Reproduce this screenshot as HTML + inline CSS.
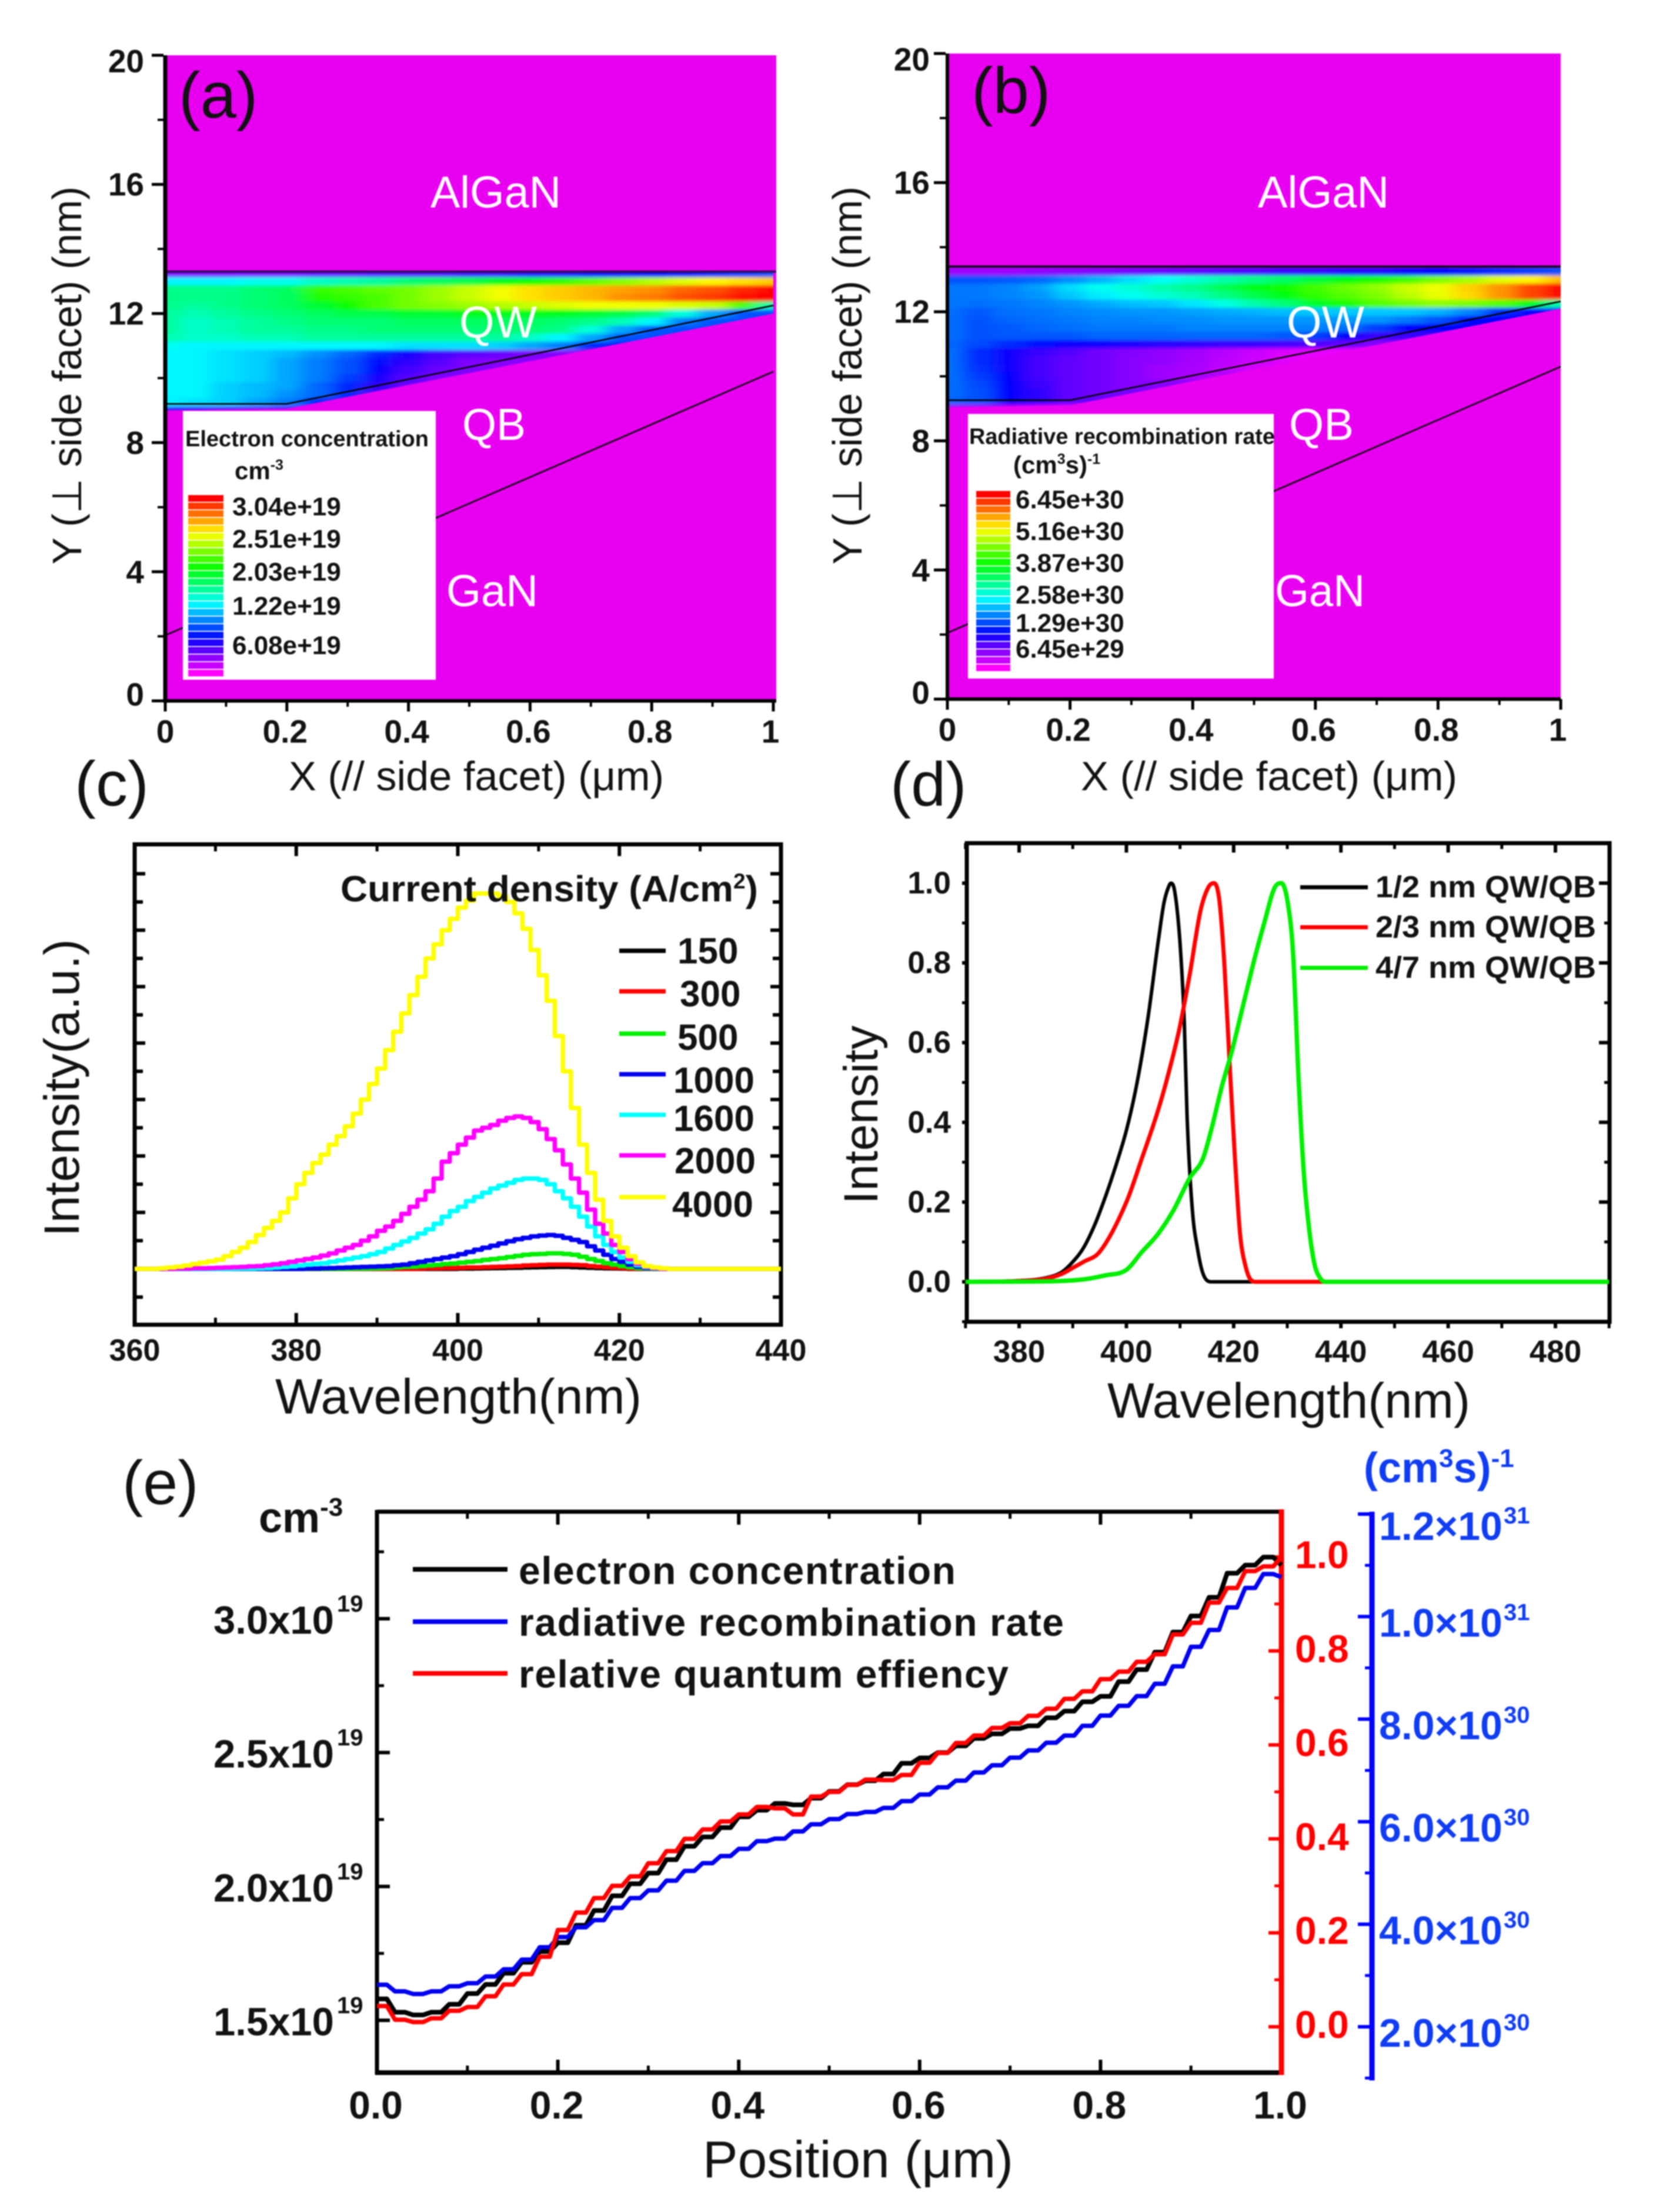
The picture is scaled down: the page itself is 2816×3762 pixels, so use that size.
<!DOCTYPE html>
<html lang="en">
<head>
<meta charset="utf-8">
<title>InGaN QW simulation figure</title>
<style>
html,body{margin:0;padding:0;background:#fff;width:2816px;height:3762px;overflow:hidden}
svg{display:block;filter:blur(1.1px)}
text{font-family:"Liberation Sans","DejaVu Sans",sans-serif;fill:#111}
.b{font-weight:700}
.w{fill:#fff}
</style>
</head>
<body>
<svg id="fig" xmlns="http://www.w3.org/2000/svg" width="2816" height="3762" viewBox="0 0 2816 3762">
<defs>
<filter id="smooth" x="-5%" y="-10%" width="110%" height="120%"><feGaussianBlur stdDeviation="14 3"/></filter>
<clipPath id="wedge-a"><polygon id="wedge-a-poly" points="0,0"/></clipPath>
<clipPath id="wedge-b"><polygon id="wedge-b-poly" points="0,0"/></clipPath>
</defs>
<rect width="2816" height="3762" fill="#fff"/>

<g id="panel-a"></g>
<g id="panel-b"></g>
<g id="panel-c"></g>
<g id="panel-d"></g>
<g id="panel-e"></g>

<g>
<text x="304" y="200" font-size="110">(a)</text>
<text x="1652" y="192" font-size="110">(b)</text>
<text x="127" y="1370" font-size="108">(c)</text>
<text x="1514" y="1370" font-size="106">(d)</text>
<text x="208" y="2558" font-size="106">(e)</text>

<text class="w" x="732" y="353" font-size="76" textLength="222" lengthAdjust="spacingAndGlyphs">AlGaN</text>
<text class="w" x="781" y="574" font-size="76" textLength="132" lengthAdjust="spacingAndGlyphs">QW</text>
<text class="w" x="786" y="748" font-size="76" textLength="108" lengthAdjust="spacingAndGlyphs">QB</text>
<text class="w" x="759" y="1031" font-size="76" textLength="156" lengthAdjust="spacingAndGlyphs">GaN</text>
<text class="w" x="2139" y="353" font-size="76" textLength="223" lengthAdjust="spacingAndGlyphs">AlGaN</text>
<text class="w" x="2188" y="574" font-size="76" textLength="132" lengthAdjust="spacingAndGlyphs">QW</text>
<text class="w" x="2192" y="748" font-size="76" textLength="110" lengthAdjust="spacingAndGlyphs">QB</text>
<text class="w" x="2168" y="1031" font-size="76" textLength="153" lengthAdjust="spacingAndGlyphs">GaN</text>

<text x="491" y="1344" font-size="70" textLength="638" lengthAdjust="spacingAndGlyphs">X (// side facet) (μm)</text>
<text x="1838" y="1344" font-size="70" textLength="640" lengthAdjust="spacingAndGlyphs">X (// side facet) (μm)</text>
<text transform="translate(138,960) rotate(-90)" font-size="70" textLength="643" lengthAdjust="spacingAndGlyphs">Y (⊥ side facet) (nm)</text>
<text transform="translate(1465,960) rotate(-90)" font-size="70" textLength="643" lengthAdjust="spacingAndGlyphs">Y (⊥ side facet) (nm)</text>

<text x="468" y="2404" font-size="84" textLength="623" lengthAdjust="spacingAndGlyphs">Wavelength(nm)</text>
<text transform="translate(134,2103) rotate(-90)" font-size="84" textLength="506" lengthAdjust="spacingAndGlyphs">Intensity(a.u.)</text>
<text class="b" x="579" y="1533" font-size="62" textLength="710" lengthAdjust="spacingAndGlyphs">Current density (A/cm<tspan font-size="36" dy="-22">2</tspan><tspan dy="22">)</tspan></text>

<text x="1883" y="2411" font-size="84" textLength="617" lengthAdjust="spacingAndGlyphs">Wavelength(nm)</text>
<text transform="translate(1492,2048) rotate(-90)" font-size="82" textLength="304" lengthAdjust="spacingAndGlyphs">Intensity</text>

<text x="1195" y="3703" font-size="88" textLength="528" lengthAdjust="spacingAndGlyphs">Position (μm)</text>
<text class="b" x="440" y="2606" font-size="72">cm<tspan font-size="44" dy="-28">-3</tspan></text>
<text class="b" x="2319" y="2521" font-size="72" style="fill:#0f3cf0">(cm<tspan font-size="44" dy="-26">3</tspan><tspan dy="26">s)</tspan><tspan font-size="44" dy="-26">-1</tspan></text>
<text class="b" x="882" y="2694" font-size="66" textLength="743" lengthAdjust="spacing">electron concentration</text>
<text class="b" x="882" y="2782" font-size="66" textLength="927" lengthAdjust="spacing">radiative recombination rate</text>
<text class="b" x="882" y="2870" font-size="66" textLength="833" lengthAdjust="spacing">relative quantum effiency</text>
</g>
</svg>

<script>
/* ---------- panel (a)/(b) contour data, units 1e19 cm-3 and 1e30 (cm3 s)-1 ---------- */
const heatX = [0,.05,.1,.15,.2,.25,.3,.35,.4,.45,.5,.55,.6,.65,.7,.75,.8,.85,.9,.95,1];
const heatY = [13.25,13,12.75,12.5,12.25,12,11.75,11.5,11.25,11,10.75,10.5,10.25,10,9.75,9.5,9.25,9];
const electronRows = [
[.3,.3,.3,.3,.3,.35,.35,.4,.4,.4,.45,.45,.5,.5,.55,.55,.6,.65,.7,.75,.8],
[1.2,1.2,1.2,1.25,1.25,1.35,1.4,1.45,1.55,1.6,1.65,1.75,1.85,1.95,2.05,2.15,2.25,2.35,2.45,2.5,2.55],
[1.5,1.5,1.5,1.55,1.6,1.95,2,2.05,2.1,2.2,2.3,2.4,2.5,2.55,2.6,2.65,2.7,2.8,2.85,2.95,3.04],
[1.5,1.5,1.5,1.55,1.6,1.9,1.95,2,2.1,2.2,2.3,2.4,2.5,2.55,2.6,2.7,2.75,2.85,2.9,3,3.04],
[1.5,1.45,1.5,1.55,1.6,1.7,1.85,2,2.1,2.15,2.2,2.25,2.3,2.35,2.4,2.4,2.4,2.35,2.3,2,1.4],
[1.45,1.4,1.45,1.5,1.55,1.6,1.65,1.65,1.7,1.7,1.75,1.75,1.75,1.75,1.7,1.65,1.55,1.3,1,.8,.8],
[1.45,1.35,1.4,1.45,1.5,1.55,1.55,1.55,1.6,1.6,1.6,1.6,1.6,1.55,1.5,1.4,1.2,.9,.8],
[1.45,1.35,1.4,1.45,1.45,1.5,1.5,1.55,1.55,1.55,1.55,1.55,1.55,1.5,1.3,1,.8],
[1.4,1.35,1.35,1.4,1.4,1.45,1.45,1.45,1.45,1.45,1.45,1.45,1.35,1.2,1,.8],
[1.25,1.2,1.2,1.2,1.2,1.2,1.2,1.2,1.15,1.15,1.15,1.1,1,.9,.7],
[1.2,1.2,1.15,1.1,1.05,.95,.85,.7,.55,.45,.4,.35,.3,.28],
[1.2,1.2,1.15,1.1,1,.9,.8,.65,.5,.4,.3,.28],
[1.2,1.2,1.15,1.1,1,.9,.8,.6,.45,.35,.3],
[1.2,1.2,1.15,1.1,1,.9,.75,.55,.4,.3],
[1.2,1.2,1.1,1.05,1,.85,.7,.5,.35],
[1.2,1.2,1.1,1.05,.95,.85,.7,.4],
[1.2,1.15,1.1,1,.9,.7,.45],
[.5,.45,.4,.35,.35,.3,.25]
];
const recombRows = [
[.5,.5,.5,.55,.6,.65,.7,.75,.8,.85,.9,1,1,1.1,1.1,1.2,1.3,1.4,1.5,1.6,1.7],
[1.7,1.7,1.75,1.8,2,2.2,2.4,2.6,2.8,3,3.2,3.4,3.6,3.8,4,4.2,4.5,4.7,5,5.2,5.5],
[1.9,1.9,1.95,2.1,2.4,2.65,2.8,3,3.15,3.45,3.75,3.95,4.2,4.4,4.6,4.9,5.1,5.4,5.7,6.1,6.45],
[1.9,1.9,1.95,2.05,2.3,2.5,2.65,2.8,2.95,3.2,3.5,3.8,4.1,4.3,4.5,4.8,5.05,5.35,5.7,6.1,6.45],
[1.9,1.85,1.9,1.95,2.05,2.15,2.25,2.3,2.45,2.7,3,3.3,3.7,4,4.3,4.45,4.6,4.5,4.3,3.8,3],
[1.85,1.75,1.85,1.9,1.95,2,2.05,2.05,2.1,2.15,2.2,2.25,2.3,2.3,2.3,2.3,2.2,1.95,1.5,1.2,1.2],
[1.85,1.7,1.8,1.85,1.9,1.95,1.95,2,2,2.05,2.05,2.05,2.05,2.05,2.05,1.9,1.7,1.3],
[1.85,1.7,1.75,1.8,1.85,1.9,1.9,1.9,1.95,1.95,1.95,1.95,1.95,1.85,1.6,1.3],
[1.85,1.7,1.75,1.75,1.75,1.8,1.8,1.8,1.8,1.8,1.8,1.75,1.6,1.3,1],
[1.8,1.65,1.5,1.35,1.25,1.2,1.15,1.1,1.05,1,1,.95,.9,.8,.6],
[1.85,1.5,1.25,1,.85,.72,.62,.55,.47,.37,.27,.18,.12,.08],
[1.85,1.5,1.25,.95,.8,.7,.6,.55,.45,.35,.25,.15,.1],
[1.85,1.55,1.25,.95,.8,.7,.6,.5,.42,.33,.22],
[1.85,1.6,1.28,.95,.8,.7,.6,.5,.4],
[1.85,1.65,1.3,1,.8,.7,.6],
[1.85,1.7,1.3,1.05,.8,.7],
[1.8,1.7,1.3,1.05,.8],
[.5,.5,.4,.3,.2]
];
const wedgeX = [0,1,1,.2,0];
const electronWedgeY = [13.3,13.3,12,9.05,9];
const recombWedgeY = [13.4,13.4,12.1,9.1,9.05];
const aInterfaceX = [0,.2,1];
const aInterfaceY = [9.2,9.2,12.25];
const bInterfaceX = [0,.2,1];
const bInterfaceY = [9.26,9.26,12.32];
const aLowerX = [0,1];
const aLowerY = [2.03,10.2];
const bLowerX = [0,1];
const bLowerY = [2.05,10.3];
const mapMajorY = [20,16,12,8,4,0];
const mapMinorY = [18,14,10,6,2];
const mapMajorX = [0,.2,.4,.6,.8,1];
const mapMinorX = [.1,.3,.5,.7,.9];
const mapLabelsX = ['0','0.2','0.4','0.6','0.8','1'];
const electronLegendLabels = ['3.04e+19','2.51e+19','2.03e+19','1.22e+19','6.08e+19'];
const recombLegendLabels = ['6.45e+30','5.16e+30','3.87e+30','2.58e+30','1.29e+30','6.45e+29'];

/* ---------- panel (c) spectra, 1 nm grid 360..440 ---------- */
const cSeriesNames = ['150','300','500','1000','1600','2000','4000'];
const cColors = ['#000000','#ff0000','#00ee00','#0000ee','#00ffff','#ff00ff','#ffff00'];
const c150 = [
0,0,0,0,0,0,0,0,0,0,
0,0,0,0,0,0,0,0,0,0,
0,0,0,0,0,0,0,0,0,0,
0,0,0,0,0,0,0,0,0,0,
.01,.01,.015,.02,.025,.03,.035,.04,.05,.055,
.06,.065,.07,.07,.06,.05,.04,.03,.02,.015,
.01,0,0,0,0,0,0,0,0,0,
0,0,0,0,0,0,0,0,0,0,0];
const c300 = [
0,0,0,0,0,0,0,0,0,0,
0,0,0,0,0,0,0,0,0,0,
0,0,0,0,0,0,0,0,0,0,
0,0,0,0,0,.01,.02,.02,.03,.03,
.04,.05,.05,.06,.07,.08,.09,.1,.12,.13,
.14,.15,.15,.15,.14,.13,.1,.08,.06,.04,
.03,.01,.01,0,0,0,0,0,0,0,
0,0,0,0,0,0,0,0,0,0,0];
const c500 = [
0,0,0,0,0,0,0,0,0,0,
0,0,0,0,0,0,0,0,0,0,
0,0,0,0,0,0,.005,.01,.01,.015,
.02,.03,.05,.07,.08,.1,.12,.14,.17,.19,
.22,.25,.28,.32,.35,.38,.42,.46,.5,.52,
.53,.55,.55,.53,.5,.43,.35,.28,.2,.15,
.1,.06,.03,.01,0,0,0,0,0,0,
0,0,0,0,0,0,0,0,0,0,0];
const c1000 = [
0,0,0,0,0,0,0,0,0,0,
0,0,0,0,0,0,0,0,0,0,
0,.01,.01,.02,.03,.04,.05,.06,.07,.08,
.09,.1,.13,.15,.2,.25,.3,.35,.4,.45,
.52,.6,.68,.75,.82,.9,.98,1.05,1.1,1.15,
1.18,1.2,1.17,1.1,1.03,.95,.8,.65,.5,.35,
.25,.15,.08,.03,.01,0,0,0,0,0,
0,0,0,0,0,0,0,0,0,0,0];
const c1600 = [
0,0,0,0,0,0,0,0,0,0,
0,0,.005,.01,.01,.02,.03,.05,.07,.09,
.12,.15,.18,.2,.25,.3,.35,.4,.45,.52,
.6,.72,.85,.97,1.1,1.25,1.4,1.6,1.85,2.05,
2.2,2.4,2.55,2.7,2.85,2.95,3.05,3.15,3.2,3.2,
3.15,3,2.75,2.5,2.2,1.85,1.5,1.15,.85,.6,
.4,.25,.13,.06,.02,0,0,0,0,0,
0,0,0,0,0,0,0,0,0,0,0];
const c2000 = [
0,0,0,0,0,.01,.01,.02,.02,.03,
.04,.05,.06,.07,.09,.1,.13,.16,.2,.25,
.3,.35,.4,.47,.55,.65,.75,.85,1,1.15,
1.35,1.5,1.7,1.95,2.2,2.45,2.75,3.2,3.8,4.1,
4.4,4.65,4.9,5,5.1,5.25,5.35,5.4,5.35,5.2,
4.95,4.6,4.2,3.7,3.2,2.7,2.1,1.6,1.25,.85,
.6,.35,.18,.08,.03,0,0,0,0,0,
0,0,0,0,0,0,0,0,0,0,0];
const c4000 = [
0,0,0,.02,.05,.08,.12,.17,.22,.27,
.33,.45,.6,.75,.95,1.2,1.45,1.7,2,2.5,
3,3.4,3.75,4.05,4.4,4.7,5.05,5.5,6,6.55,
7.1,7.75,8.4,9.05,9.7,10.35,11,11.5,12,12.4,
12.8,13.05,13.3,13.3,13.3,13.2,13,12.6,12.05,11.3,
10.4,9.5,8.25,7,5.7,4.4,3.4,2.45,1.7,1.15,
.75,.45,.23,.1,.05,.02,0,0,0,0,
0,0,0,0,0,0,0,0,0,0,0];
const cTickMajorX = [360,380,400,420,440];
const cTickMinorX = [370,390,410,430];
const cTickY = [-1,0,1,2,3,4,5,6,7,8,9,10,11,12,13,14];

/* ---------- panel (d) normalised spectra ---------- */
const d12Wl = [370,380,385,388,390,392,394,396,398,400,402,404,406,407,408,408.3,409,410,410.8,411.3,412.3,413.3,414.3,415.8,490];
const d12I  = [0,.003,.01,.025,.05,.085,.14,.21,.29,.38,.5,.66,.86,.95,.995,1,.98,.85,.65,.42,.18,.08,.02,0,0];
const d23Wl = [370,380,385,388,390,392,395,400,402.9,405.9,407.8,409.8,411.8,413.8,415.3,416.3,417.3,418.3,419.2,420.2,421.2,422.2,423.2,424.2,490];
const d23I  = [0,.002,.008,.02,.035,.05,.075,.2,.31,.43,.52,.63,.77,.93,.99,1,.96,.79,.56,.32,.12,.04,.005,0,0];
const d47Wl = [370,385,392,396,400,402.9,405.9,408.8,411.8,414.3,415.8,417.8,419.7,421.7,423.7,425.7,427.7,428.9,430.1,431.1,432.1,433.1,434.1,435.1,436.1,437.1,490];
const d47I  = [0,.001,.006,.016,.03,.075,.12,.18,.26,.31,.38,.49,.58,.69,.8,.9,.99,1,.95,.82,.51,.27,.13,.043,.01,0,0];
const dSeriesLabels = ['1/2 nm QW/QB','2/3 nm QW/QB','4/7 nm QW/QB'];
const dTickMajorX = [380,400,420,440,460,480];
const dTickMinorX = [370,390,410,430,450,470,490];
const dTickMajorY = [0,.2,.4,.6,.8,1];
const dTickMinorY = [-.1,.1,.3,.5,.7,.9];
const dLabelsY = ['0.0','0.2','0.4','0.6','0.8','1.0'];

/* ---------- panel (e) position profiles, 0.02 um grid ---------- */
const eElectron = [
1.58,1.53,1.52,1.53,1.56,1.6,1.634,1.676,1.717,1.757,
1.79,1.855,1.91,1.965,2.01,2.05,2.1,2.15,2.185,2.22,
2.26,2.285,2.31,2.305,2.33,2.355,2.38,2.395,2.42,2.46,
2.48,2.5,2.525,2.553,2.57,2.59,2.6,2.63,2.655,2.69,
2.71,2.765,2.81,2.875,2.95,3.01,3.08,3.17,3.2,3.23,3.2];
const eRecomb = [
2.82,2.69,2.64,2.69,2.79,2.85,2.98,3.12,3.31,3.55,
3.75,3.94,4.08,4.32,4.51,4.66,4.85,5.04,5.19,5.33,
5.47,5.62,5.67,5.81,5.95,6.05,6.15,6.19,6.27,6.4,
6.53,6.67,6.8,6.96,7.1,7.25,7.39,7.54,7.68,7.87,
8.07,8.26,8.45,8.69,9.03,9.41,9.74,10.18,10.56,10.83,10.77];
const eEfficiency = [
.044,.015,.01,.018,.034,.042,.065,.09,.112,.149,
.206,.243,.274,.3,.32,.348,.374,.4,.42,.437,
.452,.468,.465,.452,.49,.5,.515,.526,.525,.536,
.562,.583,.604,.62,.636,.646,.662,.677,.698,.714,
.74,.756,.777,.793,.835,.86,.903,.934,.97,.98,1];
const eTickMajorX = [0,.2,.4,.6,.8,1];
const eTickMinorX = [.1,.3,.5,.7,.9];
const eLabelsX = ['0.0','0.2','0.4','0.6','0.8','1.0'];
const eLeftMajor = [1.5,2,2.5,3];
const eLeftMinor = [1.75,2.25,2.75,3.25];
const eLeftLabels = ['1.5x10','2.0x10','2.5x10','3.0x10'];
const eRedMajor = [0,.2,.4,.6,.8,1];
const eRedMinor = [.1,.3,.5,.7,.9];
const eRedLabels = ['0.0','0.2','0.4','0.6','0.8','1.0'];
const eBlueMajor = [2,4,6,8,10,12];
const eBlueMinor = [1,3,5,7,9,11];
const eBlueLabels = ['2.0×10','4.0×10','6.0×10','8.0×10','1.0×10','1.2×10'];
const eBlueExps = ['30','30','30','30','31','31'];

/* ---------- helpers ---------- */
const NS = 'http://www.w3.org/2000/svg';
const MAGENTA = '#e800f0';
function linear(d0, d1, r0, r1) { return v => r0 + (v - d0) * (r1 - r0) / (d1 - d0); }
function make(parent, tag, attrs) {
  const n = document.createElementNS(NS, tag);
  for (const k in attrs) n.setAttribute(k, attrs[k]);
  parent.appendChild(n);
  return n;
}
function mark(el, name) {
  
  
  return el;
}
function seg(p, x1, y1, x2, y2, color, w, name) {
  return mark(make(p, 'line', {x1, y1, x2, y2, stroke: color, 'stroke-width': w}), name);
}
function label(p, str, x, y, size, anchor, color, name, weight) {
  const t = make(p, 'text', {x, y, 'font-size': size, 'text-anchor': anchor, 'dominant-baseline': 'central', 'font-weight': weight || 700});
  t.style.fill = color || '#111';
  t.textContent = str;
  return mark(t, name);
}
function polyline(p, xs, ys, sx, sy, color, w, name) {
  const pts = xs.map((x, i) => sx(x).toFixed(1) + ',' + sy(ys[i]).toFixed(1)).join(' ');
  return mark(make(p, 'polyline', {points: pts, fill: 'none', stroke: color, 'stroke-width': w, 'stroke-linejoin': 'round'}), name);
}
function stepPath(p, xs, ys, sx, sy, color, w, name) {
  let d = 'M' + sx(xs[0]).toFixed(1) + ' ' + sy(ys[0]).toFixed(1);
  for (let i = 1; i < xs.length; i++) d += 'H' + sx(xs[i]).toFixed(1) + 'V' + sy(ys[i]).toFixed(1);
  return mark(make(p, 'path', {d, fill: 'none', stroke: color, 'stroke-width': w, 'stroke-linejoin': 'round'}), name);
}
/* soft stair: flat for part of each interval, then a short diagonal rise, as in the jagged simulation traces */
function stairPath(p, xs, ys, sx, sy, color, w, name) {
  let d = 'M' + sx(xs[0]).toFixed(1) + ' ' + sy(ys[0]).toFixed(1);
  for (let i = 1; i < xs.length; i++) {
    const xa = sx(xs[i - 1]), xb = sx(xs[i]);
    d += 'L' + (xa + .55 * (xb - xa)).toFixed(1) + ' ' + sy(ys[i - 1]).toFixed(1);
    d += 'L' + xb.toFixed(1) + ' ' + sy(ys[i]).toFixed(1);
  }
  return mark(make(p, 'path', {d, fill: 'none', stroke: color, 'stroke-width': w, 'stroke-linejoin': 'round'}), name);
}
/* monotone cubic through the read points, for the smooth spectra */
function smoothPath(p, xs, ys, sx, sy, color, w, name) {
  const X = xs.map(sx), Y = ys.map(sy), n = X.length;
  const sec = [];
  for (let i = 0; i < n - 1; i++) sec.push((Y[i + 1] - Y[i]) / (X[i + 1] - X[i]));
  const m = [sec[0]];
  for (let i = 1; i < n - 1; i++) {
    if (sec[i - 1] * sec[i] <= 0) m.push(0);
    else {
      const avg = (sec[i - 1] + sec[i]) / 2;
      const lim = 3 * Math.min(Math.abs(sec[i - 1]), Math.abs(sec[i]));
      m.push(Math.sign(avg) * Math.min(Math.abs(avg), lim));
    }
  }
  m.push(sec[n - 2]);
  let d = 'M' + X[0].toFixed(1) + ' ' + Y[0].toFixed(1);
  for (let i = 0; i < n - 1; i++) {
    const h = (X[i + 1] - X[i]) / 3;
    d += 'C' + (X[i] + h).toFixed(1) + ' ' + (Y[i] + m[i] * h).toFixed(1) + ' ' + (X[i + 1] - h).toFixed(1) + ' ' + (Y[i + 1] - m[i + 1] * h).toFixed(1) + ' ' + X[i + 1].toFixed(1) + ' ' + Y[i + 1].toFixed(1);
  }
  return mark(make(p, 'path', {d, fill: 'none', stroke: color, 'stroke-width': w, 'stroke-linejoin': 'round'}), name);
}
function rampColor(v, max) {
  const h = 300 * (1 - Math.max(0, Math.min(1, v / max)));
  return 'hsl(' + h.toFixed(0) + ',100%,50%)';
}

/* ---------- contour panels ---------- */
function drawMap(cfg) {
  const g = document.getElementById(cfg.id);
  const sx = linear(0, 1, cfg.x0, cfg.x1);
  const sy = linear(0, 20, cfg.y0, cfg.y20);
  mark(make(g, 'rect', {x: cfg.x0, y: cfg.y20, width: cfg.right - cfg.x0, height: cfg.y0 - cfg.y20, fill: MAGENTA}), 'map-background');
  document.getElementById(cfg.clip).setAttribute('points', cfg.wedgeY.map((y, i) => sx(wedgeX[i]).toFixed(1) + ',' + sy(y).toFixed(1)).join(' '));
  const clipG = make(g, 'g', {'clip-path': 'url(#' + cfg.clip.replace('-poly', '') + ')'});
  mark(clipG, 'quantum-well-region');
  const cells = make(clipG, 'g', {filter: 'url(#smooth)'});
  mark(cells, 'heatmap-cells');
  const dx = (sx(.05) - sx(0)) / 2, dy = (sy(0) - sy(.25)) / 2;
  cfg.rows.forEach((row, r) => {
    heatX.forEach((hx, c) => {
      const v = row[Math.min(c, row.length - 1)];
      const cell = make(cells, 'rect', {x: sx(hx) - dx, y: sy(heatY[r]) - dy, width: 2 * dx + .5, height: 2 * dy + .5, fill: rampColor(v, cfg.max)});
      mark(cell, 'heatmap-cell');
    });
  });
  seg(g, cfg.x0, sy(cfg.topY), cfg.right, sy(cfg.topY), cfg.topColor, 4, 'top-interface-line');
  polyline(g, cfg.ifX, cfg.ifY, sx, sy, '#000', 2.5, 'well-interface-line');
  polyline(g, cfg.lowX, cfg.lowY, sx, sy, '#000', 2.5, 'lower-interface-line');

  /* legend */
  const L = cfg.legend;
  mark(make(g, 'rect', {x: L.x, y: L.y, width: L.w, height: L.h, fill: '#fff'}), 'legend-box');
  const N = 24, stripe = L.barH / N;
  for (let i = 0; i < N; i++) {
    const s = make(g, 'rect', {x: L.barX, y: L.barY + i * stripe, width: L.barW, height: stripe - 1.6, fill: rampColor(cfg.max * (1 - i / (N - 1)), cfg.max)});
    mark(s, 'legend-swatch');
  }
  L.labels.forEach((t, i) => label(g, t, L.textX, L.textY[i], 44, 'start', '#111', 'legend-value'));
  const ttl = label(g, L.title, L.titleX, L.titleY, 38, 'start', '#111', 'legend-title');
  ttl.setAttribute('textLength', L.titleW);
  ttl.setAttribute('lengthAdjust', 'spacingAndGlyphs');
  const unit = make(g, 'text', {x: L.unitX, y: L.unitY, 'font-size': 42, 'font-weight': 700});
  mark(unit, 'legend-unit');
  const [a, b, c, d] = L.unit;
  const ts1 = make(unit, 'tspan', {}); ts1.textContent = a;
  const ts2 = make(unit, 'tspan', {'font-size': 25, dy: -16}); ts2.textContent = b;
  const ts3 = make(unit, 'tspan', {dy: 16}); ts3.textContent = c;
  const ts4 = make(unit, 'tspan', {'font-size': 25, dy: -16}); ts4.textContent = d;

  /* axes */
  const tickLeft = cfg.x0 - 3;
  mapMajorY.forEach((v, i) => {
    seg(g, tickLeft - 20, sy(v), tickLeft, sy(v), '#000', 5, 'y-tick-major');
    const ly = Math.min(Math.max(sy(v), cfg.y20 + 10), cfg.y0 - 11);
    label(g, String(v), cfg.labelRight, ly, 55, 'end', '#111', 'y-tick-label');
  });
  mapMinorY.forEach(v => seg(g, tickLeft - 10, sy(v), tickLeft, sy(v), '#000', 4, 'y-tick-minor'));
  mapMajorX.forEach((v, i) => {
    seg(g, sx(v), cfg.y0, sx(v), cfg.y0 + 18, '#000', 5, 'x-tick-major');
    label(g, mapLabelsX[i], sx(v) - (i === 5 ? 5 : 0) - (i > 0 && i < 5 ? 3 : 0), cfg.y0 + 52, 55, 'middle', '#111', 'x-tick-label');
  });
  mapMinorX.forEach(v => seg(g, sx(v), cfg.y0, sx(v), cfg.y0 + 10, '#000', 4, 'x-tick-minor'));
  seg(g, cfg.x0, cfg.y20, cfg.x0, cfg.y0 + 3, '#000', cfg.axisW, 'y-axis');
  seg(g, cfg.x0 - 3, cfg.y0, cfg.right, cfg.y0, '#000', 6, 'x-axis');
}
drawMap({id: 'panel-a', clip: 'wedge-a-poly', x0: 281, x1: 1315, right: 1320, y0: 1192, y20: 94, rows: electronRows, max: 3.04,
  wedgeY: electronWedgeY, topY: 13.3, topColor: '#3a0a66', ifX: aInterfaceX, ifY: aInterfaceY, lowX: aLowerX, lowY: aLowerY, labelRight: 245, axisW: 7,
  legend: {x: 311, y: 699, w: 430, h: 457, barX: 320, barY: 842, barW: 60, barH: 310, labels: electronLegendLabels, textX: 395, textY: [862, 917, 973, 1031, 1098],
    title: 'Electron concentration', titleX: 315, titleY: 747, titleW: 414, unitX: 399, unitY: 815, unit: ['cm', '-3', '', '']}});
drawMap({id: 'panel-b', clip: 'wedge-b-poly', x0: 1611, x1: 2654, right: 2654, y0: 1189, y20: 91, rows: recombRows, max: 6.45,
  wedgeY: recombWedgeY, topY: 13.4, topColor: '#1a0a2a', ifX: bInterfaceX, ifY: bInterfaceY, lowX: bLowerX, lowY: bLowerY, labelRight: 1581, axisW: 6,
  legend: {x: 1646, y: 704, w: 520, h: 450, barX: 1660, barY: 835, barW: 58, barH: 308, labels: recombLegendLabels, textX: 1727, textY: [850, 904, 958, 1012, 1060, 1104],
    title: 'Radiative recombination rate', titleX: 1648, titleY: 743, titleW: 520, unitX: 1723, unitY: 805, unit: ['(cm', '3', 's)', '-1']}});

/* ---------- panel (c) ---------- */
(function () {
  const g = document.getElementById('panel-c');
  const sx = linear(360, 440, 229, 1328);
  const sy = linear(0, 1, 2158, 2110);
  mark(make(g, 'rect', {x: 229, y: 1436, width: 1099, height: 817, fill: 'none', stroke: '#000', 'stroke-width': 7}), 'plot-frame');
  cTickMajorX.forEach((v) => {
    seg(g, sx(v), 1436, sx(v), 1456, '#000', 6, 'x-tick-major-top');
    seg(g, sx(v), 2253, sx(v), 2233, '#000', 6, 'x-tick-major-bottom');
    label(g, String(v), sx(v), 2297, 52, 'middle', '#111', 'x-tick-label');
  });
  cTickMinorX.forEach((v) => {
    seg(g, sx(v), 1436, sx(v), 1448, '#000', 5, 'x-tick-minor-top');
    seg(g, sx(v), 2253, sx(v), 2241, '#000', 5, 'x-tick-minor-bottom');
  });
  cTickY.forEach((v, i) => {
    const len = i % 2 ? 18 : 14;
    seg(g, 229, sy(v), 229 + len, sy(v), '#000', 6, 'y-tick-left');
    seg(g, 1328, sy(v), 1328 - len, sy(v), '#000', 6, 'y-tick-right');
  });
  const wl = c4000.map((_, i) => 360 + i);
  const all = [c150, c300, c500, c1000, c1600, c2000, c4000];
  all.forEach((vals, i) => {
    stepPath(g, wl, vals, sx, sy, cColors[i], 7.5, 'spectrum-' + cSeriesNames[i]);
  });
  const lineY = [1617, 1686, 1758, 1827, 1896, 1965, 2036];
  const textY = [1618, 1691, 1765, 1838, 1903, 1975, 2049];
  const legX = [1152, 1156, 1152, 1145, 1145, 1147, 1143];
  all.forEach((vals, i) => {
    seg(g, 1053, lineY[i], 1132, lineY[i], cColors[i], 7.5, 'legend-line-' + cSeriesNames[i]);
    label(g, cSeriesNames[i], legX[i], textY[i], 62, 'start', '#111', 'legend-label-' + cSeriesNames[i]);
  });
})();

/* ---------- panel (d) ---------- */
(function () {
  const g = document.getElementById('panel-d');
  const sx = linear(380, 480, 1733, 2645);
  const sy = linear(0, 1, 2180, 1502);
  const L = 1644, R = 2737, T = 1434, B = 2248;
  mark(make(g, 'rect', {x: L, y: T, width: R - L, height: B - T, fill: 'none', stroke: '#000', 'stroke-width': 7}), 'plot-frame');
  dTickMajorX.forEach(v => {
    seg(g, sx(v), T, sx(v), T + 16, '#000', 6, 'x-tick-major-top');
    seg(g, sx(v), B, sx(v), B + 11, '#000', 6, 'x-tick-major-bottom');
    label(g, String(v), sx(v), 2299, 53, 'middle', '#111', 'x-tick-label');
  });
  dTickMinorX.forEach(v => {
    seg(g, sx(v), T, sx(v), T + 10, '#000', 5, 'x-tick-minor-top');
    seg(g, sx(v), B, sx(v), B + 11, '#000', 5, 'x-tick-minor-bottom');
  });
  dTickMajorY.forEach((v, i) => {
    seg(g, L - 8, sy(v), L, sy(v), '#000', 6, 'y-tick-major-left');
    seg(g, R, sy(v), R - 18, sy(v), '#000', 6, 'y-tick-major-right');
    label(g, dLabelsY[i], 1617, sy(v), 53, 'end', '#111', 'y-tick-label');
  });
  dTickMinorY.forEach(v => {
    seg(g, L - 8, sy(v), L, sy(v), '#000', 5, 'y-tick-minor-left');
    seg(g, R, sy(v), R - 9, sy(v), '#000', 5, 'y-tick-minor-right');
  });
  smoothPath(g, d12Wl, d12I, sx, sy, '#000', 6, 'spectrum-1-2-nm');
  smoothPath(g, d23Wl, d23I, sx, sy, '#ff0000', 7, 'spectrum-2-3-nm');
  smoothPath(g, d47Wl, d47I, sx, sy, '#00ee00', 7.5, 'spectrum-4-7-nm');
  const colors = ['#000', '#ff0000', '#00ee00'];
  const rows = [1509, 1577, 1646];
  rows.forEach((y, i) => {
    seg(g, 2211, y, 2326, y, colors[i], 7, 'legend-line');
    const t = label(g, dSeriesLabels[i], 2339, y, 52, 'start', '#111', 'legend-label');
    t.setAttribute('textLength', 375);
    t.setAttribute('lengthAdjust', 'spacingAndGlyphs');
  });
})();

/* ---------- panel (e) ---------- */
(function () {
  const g = document.getElementById('panel-e');
  const sx = linear(0, 1, 641, 2179);
  const left = linear(1.5, 3, 3436, 2753);
  const red = linear(0, 1, 3447, 2648);
  const blue = linear(2, 12, 3447, 2575);
  const T = 2571, B = 3525, L = 641, R = 2179, BX = 2333;
  const grid = eElectron.map((_, i) => i * .02);

  seg(g, L, T, R, T, '#000', 7, 'top-axis');
  seg(g, L - 3, B, R, B, '#000', 8, 'bottom-axis');
  seg(g, L, T - 3, L, B + 3, '#000', 7, 'left-axis');
  eTickMajorX.forEach((v, i) => {
    if (i > 0 && i < 5) {
      seg(g, sx(v), T, sx(v), T + 22, '#000', 6, 'x-tick-major-top');
      seg(g, sx(v), B, sx(v), B - 22, '#000', 6, 'x-tick-major-bottom');
    }
    label(g, eLabelsX[i], sx(v) - 2, 3580, 66, 'middle', '#111', 'x-tick-label');
  });
  eTickMinorX.forEach(v => {
    seg(g, sx(v), T, sx(v), T + 12, '#000', 5, 'x-tick-minor-top');
    seg(g, sx(v), B, sx(v), B - 12, '#000', 5, 'x-tick-minor-bottom');
  });
  eLeftMajor.forEach((v, i) => {
    seg(g, L, left(v), L + 22, left(v), '#000', 6, 'left-tick-major');
    label(g, eLeftLabels[i], 363, left(v) + 3, 67, 'start', '#111', 'left-tick-label');
    label(g, '19', 573, left(v) - 25, 40, 'start', '#111', 'left-tick-exponent');
  });
  eLeftMinor.forEach(v => seg(g, L, left(v), L + 12, left(v), '#000', 5, 'left-tick-minor'));

  seg(g, R, T - 4, R, B + 4, '#ff0000', 9, 'red-axis');
  eRedMajor.forEach((v, i) => {
    seg(g, R, red(v), R - 22, red(v), '#ff0000', 6, 'red-tick-major');
    label(g, eRedLabels[i], 2202, red(v) - 4, 66, 'start', '#ff0000', 'red-tick-label');
  });
  eRedMinor.forEach(v => seg(g, R, red(v), R - 12, red(v), '#ff0000', 5, 'red-tick-minor'));

  seg(g, BX, blue(12) - 4, BX, blue(1) + 4, '#0000ff', 9, 'blue-axis');
  eBlueMajor.forEach((v, i) => {
    seg(g, BX, blue(v), BX - 24, blue(v), '#0000ff', 6, 'blue-tick-major');
    const y = Math.max(blue(v) + 11, 2596);
    label(g, eBlueLabels[i], 2345, y, 68, 'start', '#0f3cf0', 'blue-tick-label');
    label(g, eBlueExps[i], 2557, y - 18, 40, 'start', '#0f3cf0', 'blue-tick-exponent');
  });
  eBlueMinor.forEach(v => seg(g, BX, blue(v), BX - 12, blue(v), '#0000ff', 5, 'blue-tick-minor'));

  stairPath(g, grid, eElectron, sx, left, '#000', 8, 'electron-concentration-line');
  stairPath(g, grid, eRecomb, sx, blue, '#0000ee', 7.5, 'radiative-recombination-line');
  stairPath(g, grid, eEfficiency, sx, red, '#ff0000', 7.5, 'quantum-efficiency-line');

  seg(g, 702, 2669, 863, 2669, '#000', 8, 'legend-line-electron');
  seg(g, 702, 2758, 863, 2758, '#0000ee', 8, 'legend-line-recombination');
  seg(g, 702, 2846, 863, 2846, '#ff0000', 8, 'legend-line-efficiency');
})();
</script>
</body>
</html>
